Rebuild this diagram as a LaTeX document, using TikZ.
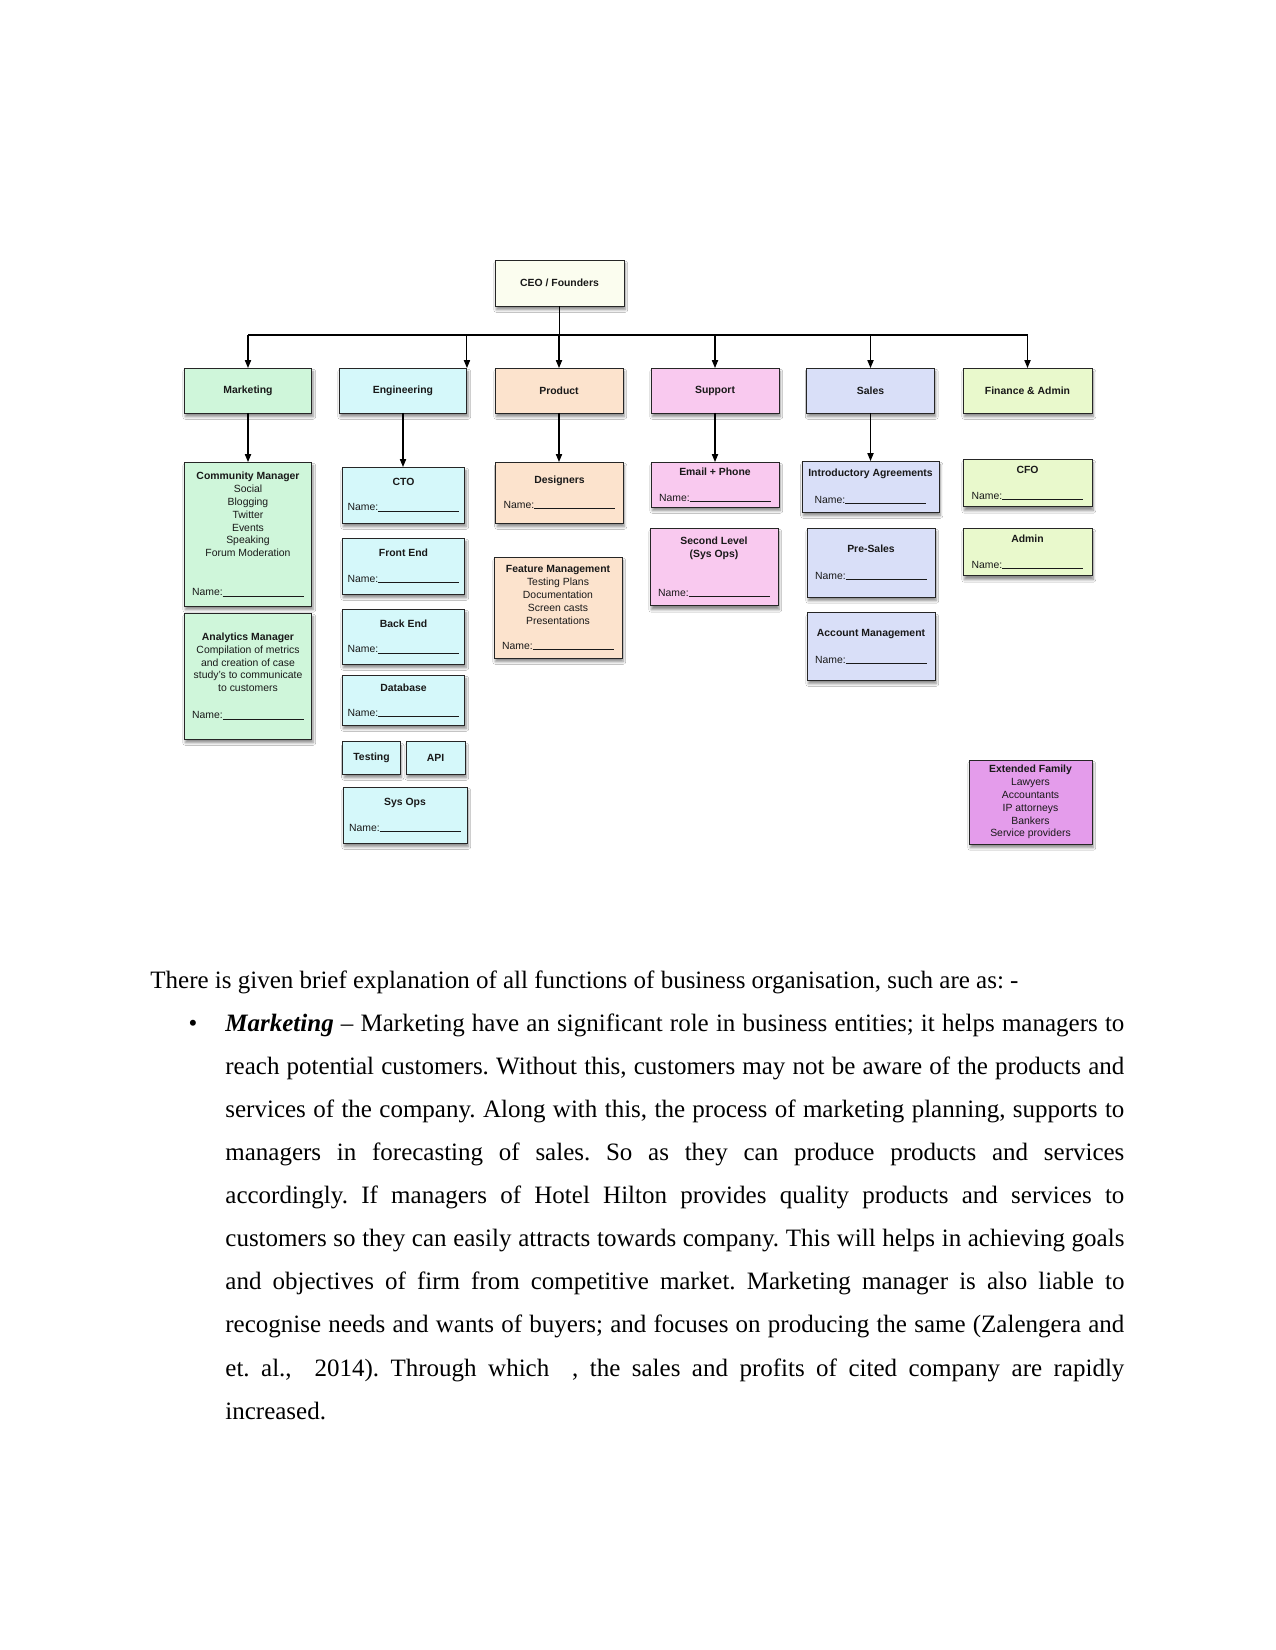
\documentclass[tikz,border=0pt]{standalone}
\usepackage{fontspec}
\setmainfont{Liberation Serif}
\setsansfont{Liberation Sans}
\usetikzlibrary{arrows.meta,shadows.blur}

\definecolor{ceofill}{HTML}{FBFDEF}
\definecolor{mktfill}{HTML}{CFF6DA}
\definecolor{engfill}{HTML}{D5F8FA}
\definecolor{prodfill}{HTML}{FCE3CD}
\definecolor{suppfill}{HTML}{F9C9EF}
\definecolor{salesfill}{HTML}{D9DFF8}
\definecolor{finfill}{HTML}{E9F9CC}
\definecolor{famfill}{HTML}{E49CEB}

\newcommand{\namefield}{Name:\rule[-0.2pt]{39pt}{0.3pt}}

\begin{document}
\frenchspacing
\begin{tikzpicture}[
    x=0.48pt, y=-0.48pt,
    font=\sffamily\fontsize{5}{6.2}\selectfont,
    orgbox/.style={draw=black!85, line width=0.45pt, inner sep=0pt, outer sep=0pt, align=center,
        minimum width=61.4pt, minimum height=21.6pt, text=black!90,
        blur shadow={shadow xshift=0.6pt, shadow yshift=-1.8pt, shadow blur steps=6, shadow blur radius=1.2pt, shadow opacity=45}},
    ceobox/.style={orgbox, fill=ceofill},
    mktbox/.style={orgbox, fill=mktfill},
    engbox/.style={orgbox, fill=engfill},
    prodbox/.style={orgbox, fill=prodfill},
    suppbox/.style={orgbox, fill=suppfill},
    salesbox/.style={orgbox, fill=salesfill},
    finbox/.style={orgbox, fill=finfill},
    fambox/.style={orgbox, fill=famfill},
    link/.style={line width=0.5pt, draw=black},
    arr/.style={link, -{Triangle[length=3.8pt, width=3pt]}},
    bodytext/.style={inner sep=0pt, font=\rmfamily\fontsize{12}{20.7}\selectfont}
]

    \path[use as bounding box, fill=white] (0,0) rectangle (1275,1650);

    % Top of the chart
    \node[ceobox, minimum width=61.9pt, minimum height=22.1pt] (ceo) at (559.5,283) {\textbf{CEO / Founders}};

    \node[mktbox] (mkt) at (248,390.5) {\textbf{Marketing}};
    \node[engbox] (eng) at (403,390.5) {\textbf{Engineering}};
    \node[prodbox] (prod) at (559,390.5) {\textbf{Product}};
    \node[suppbox] (supp) at (715,390.5) {\textbf{Support}};
    \node[salesbox] (sales) at (870.5,390.5) {\textbf{Sales}};
    \node[finbox, minimum width=61.9pt] (fin) at (1027.5,390.5) {\textbf{Finance \& Admin}};

    % Marketing
    \node[mktbox, minimum height=69.1pt] (commgr) at (248,534) {\textbf{Community Manager}\\Social\\Blogging\\Twitter\\Events\\Speaking\\Forum Moderation\\[12.5pt]\namefield};
    \node[mktbox, minimum height=60.5pt] (anmgr) at (248,676) {\textbf{Analytics Manager}\\Compilation of metrics\\and creation of case\\study's to communicate\\to customers\\[6.8pt]\namefield};

    % Engineering
    \node[engbox, minimum width=59pt, minimum height=26.9pt] (cto) at (403.5,495) {\textbf{CTO}\\[5.8pt]\namefield};
    \node[engbox, minimum width=59pt, minimum height=26.9pt] (frontend) at (403.5,566) {\textbf{Front End}\\[6pt]\namefield};
    \node[engbox, minimum width=59pt, minimum height=26.4pt] (backend) at (403.5,636.5) {\textbf{Back End}\\[6pt]\namefield};
    \node[engbox, minimum width=59pt, minimum height=24pt] (database) at (403.5,700) {\textbf{Database}\\[5.8pt]\namefield};
    \node[engbox, minimum width=27.4pt, minimum height=15.4pt] (testing) at (371.5,758) {\textbf{Testing}};
    \node[engbox, minimum width=28.3pt, minimum height=15.4pt] (api) at (435.5,758) {\textbf{API}};
    \node[engbox, minimum width=59.5pt, minimum height=26.9pt] (sysops) at (405,815) {\textbf{Sys Ops}\\[6pt]\namefield};

    % Product
    \node[prodbox, minimum width=61pt, minimum height=29.3pt] (designers) at (559.5,492.5) {\textbf{Designers}\\[5.8pt]\namefield};
    \node[prodbox, minimum height=48.5pt] (featmgmt) at (558,607.5) {\textbf{Feature Management}\\Testing Plans\\Documentation\\Screen casts\\Presentations\\[5.8pt]\namefield};

    % Support
    \node[suppbox] (email) at (715,484.5) {\textbf{Email + Phone}\\[6.3pt]\namefield};
    \node[suppbox, minimum height=37.4pt] (seclevel) at (714,567) {\textbf{Second Level}\\\textbf{(Sys Ops)}\\[12.5pt]\namefield};

    % Sales
    \node[salesbox, minimum width=65.8pt, minimum height=24.5pt] (intro) at (870.5,486.5) {\textbf{Introductory Agreements}\\[6.8pt]\namefield};
    \node[salesbox, minimum height=33.1pt] (presales) at (871,562.5) {\textbf{Pre-Sales}\\[6.8pt]\namefield};
    \node[salesbox, minimum height=32.2pt] (accmgmt) at (871,646.5) {\textbf{Account Management}\\[6.8pt]\namefield};

    % Finance & Admin
    \node[finbox, minimum width=61.9pt, minimum height=23pt] (cfo) at (1027.5,483) {\textbf{CFO}\\[6.3pt]\namefield};
    \node[finbox, minimum width=61.9pt, minimum height=23pt] (admin) at (1027.5,552) {\textbf{Admin}\\[6.3pt]\namefield};

    \node[fambox, minimum width=59pt, minimum height=40.3pt] (extfam) at (1030.5,802) {\textbf{Extended Family}\\Lawyers\\Accountants\\IP attorneys\\Bankers\\Service providers};

    % Connectors
    \coordinate (bus) at (0,335);
    \draw[link] (ceo.south) -- (ceo.south |- bus);
    \draw[link] (mkt.north |- bus) -- (fin.north |- bus);
    \foreach \dept in {mkt,prod,supp,sales,fin}
        \draw[arr] (\dept.north |- bus) -- (\dept.north);
    \draw[arr] (eng.north east |- bus) -- (eng.north east);

    \draw[arr] (mkt) -- (commgr);
    \draw[arr] (eng) -- (eng.south |- cto.north);
    \draw[arr] (prod) -- (prod.south |- designers.north);
    \draw[arr] (supp) -- (email);
    \draw[arr] (sales) -- (intro);

    % Text below the chart
    \node[bodytext, anchor=base west] (lead) at (150,988) {There is given brief explanation of all functions of business organisation, such are as: -};
    \node[bodytext, anchor=base] (bullet) at (193,1031) {•};
    \node[bodytext, anchor=base west, text width=431.5pt, align=justify] (mktpara) at (225,1031) {%
        \textbf{\textit{Marketing}} – Marketing have an significant role in business entities; it helps managers to\linebreak
        reach potential customers. Without this, customers may not be aware of the products and\linebreak
        services of the company. Along with this, the process of marketing planning, supports to\linebreak
        managers in forecasting of sales. So as they can produce products and services\linebreak
        accordingly. If managers of Hotel Hilton provides quality products and services to\linebreak
        customers so they can easily attracts towards company. This will helps in achieving goals\linebreak
        and objectives of firm from competitive market. Marketing manager is also liable to\linebreak
        recognise needs and wants of buyers; and focuses on producing the same (Zalengera and\linebreak
        et. al.,~ 2014). Through which~ , the sales and profits of cited company are rapidly\linebreak
        increased.};

\end{tikzpicture}
\end{document}
